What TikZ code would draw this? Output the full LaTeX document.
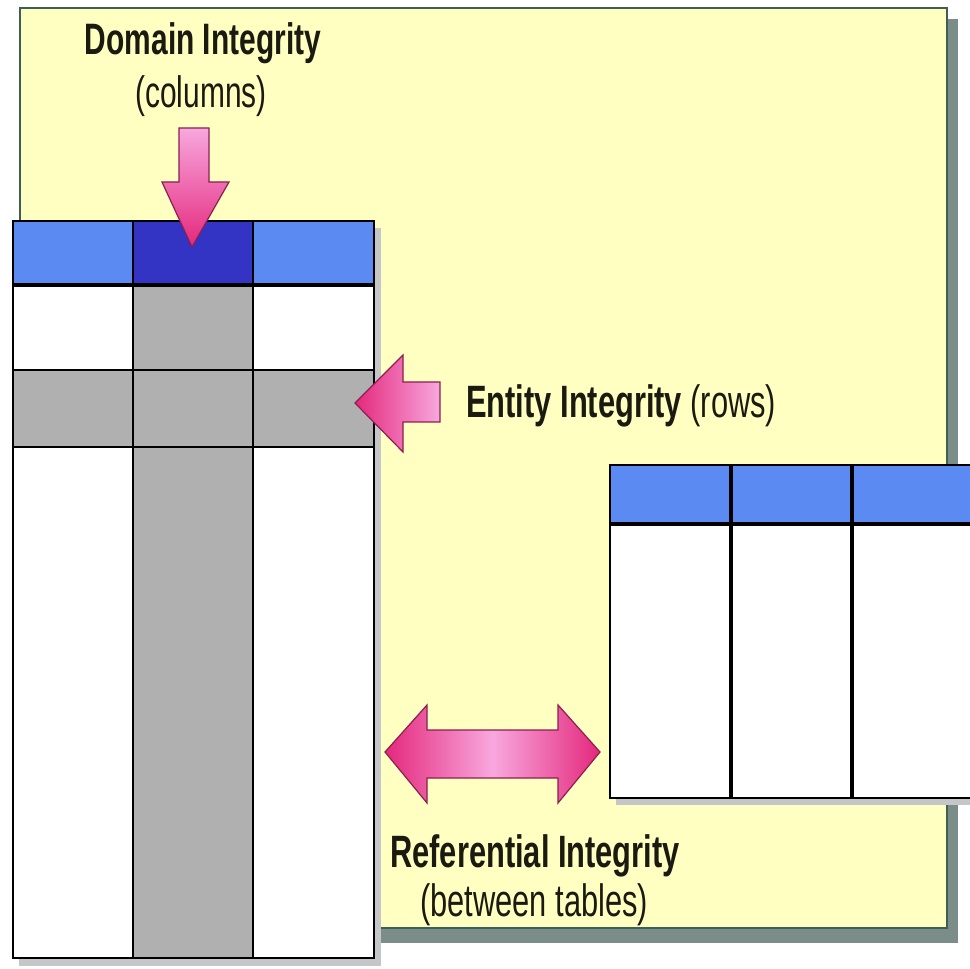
\documentclass[tikz,border=0pt]{standalone}
\usepackage{fontspec}
\setmainfont{Liberation Sans}
\newfontfamily\narrowfont{Liberation Sans}[FakeStretch=0.68]
\definecolor{panelc}{HTML}{FFFFC2}
\definecolor{panelline}{HTML}{3F5F55}
\definecolor{shadowc}{HTML}{7A8D88}
\definecolor{tshadow}{HTML}{C4C6C8}
\definecolor{hblue}{HTML}{5B8BF2}
\definecolor{hdark}{HTML}{3434C4}
\definecolor{cellgray}{HTML}{B0B0B0}
\definecolor{pinkdark}{HTML}{E4287C}
\definecolor{pinklight}{HTML}{F8A8DE}
\definecolor{arrowline}{HTML}{8A2050}
\definecolor{textc}{HTML}{1A1A10}
\tikzset{
  bigarrow/.style={draw=arrowline, line width=0.9pt, line join=miter},
  boldlabel/.style={inner sep=0pt, text=textc, font=\narrowfont\bfseries\fontsize{33}{36}\selectfont},
  reglabel/.style={inner sep=0pt, text=textc, font=\narrowfont\fontsize{33}{36}\selectfont},
  biglabel/.style={inner sep=0pt, text=textc, font=\narrowfont\fontsize{34}{38}\selectfont},
  gridline/.style={draw=black, line width=1.6pt},
}
\begin{document}
\begin{tikzpicture}[x=0.75pt,y=-0.75pt]
\clip (0,0) rectangle (970,969);
\fill[white] (0,0) rectangle (970,969);
% panel with shadow
\fill[shadowc] (31,19) rectangle (958,943);
\fill[panelc] (20,8) rectangle (947,928);
\draw[panelline, line width=1.4pt] (20,8) rectangle (947,928);

% left table
\fill[tshadow] (19,228) rectangle (381,966);
\fill[white] (13,221) rectangle (374,958);
\fill[cellgray] (133,285) rectangle (253,958);
\fill[cellgray] (13,370) rectangle (374,447);
\fill[hblue] (13,221) rectangle (133,285);
\fill[hdark] (133,221) rectangle (253,285);
\fill[hblue] (253,221) rectangle (374,285);
\draw[black, line width=1.1pt] (13,370) -- (374,370);
\draw[black, line width=1.1pt] (13,447) -- (374,447);
\draw[black, line width=1.4pt] (133,221) -- (133,958);
\draw[black, line width=2.2pt] (253,221) -- (253,958);
\draw[black, line width=2.6pt] (13,285) -- (374,285);
\draw[gridline] (13,221) rectangle (374,958);

% right table
\fill[tshadow] (616,471) rectangle (990,805);
\fill[white] (610,465) rectangle (985,798);
\fill[hblue] (610,465) rectangle (985,524);
\draw[black, line width=2.4pt] (731,465) -- (731,798);
\draw[black, line width=2.4pt] (852,465) -- (852,798);
\draw[black, line width=2.6pt] (610,524) -- (985,524);
\draw[gridline] (610,465) rectangle (985,798);

% arrows
\draw[bigarrow, top color=pinklight, bottom color=pinkdark]
  (179,128) -- (209,128) -- (209,182) -- (229,182) -- (192,247) -- (162,182) -- (179,182) -- cycle;
\draw[bigarrow, left color=pinkdark, right color=pinklight]
  (440,382) -- (440,422) -- (403,422) -- (403,452) -- (355,403) -- (403,355) -- (403,382) -- cycle;
\draw[bigarrow, left color=pinkdark, right color=pinkdark, middle color=pinklight]
  (385,752) -- (427,705) -- (427,730) -- (558,730) -- (558,705) -- (600,752)
  -- (558,803) -- (558,778) -- (427,778) -- (427,803) -- cycle;

% labels
\node[boldlabel, anchor=base] (dom) at (203,55) {Domain Integrity};
\node[reglabel, anchor=base] (domc) at (201,108) {(columns)};
\node[biglabel, anchor=base west] (ent) at (466,417) {\bfseries Entity Integrity \mdseries(rows)};
\node[biglabel, anchor=base west, font=\narrowfont\bfseries\fontsize{34}{38}\selectfont] (ref) at (390,867) {Referential Integrity};
\node[biglabel, anchor=base west] (refc) at (420,916) {(between tables)};
\end{tikzpicture}
\end{document}
